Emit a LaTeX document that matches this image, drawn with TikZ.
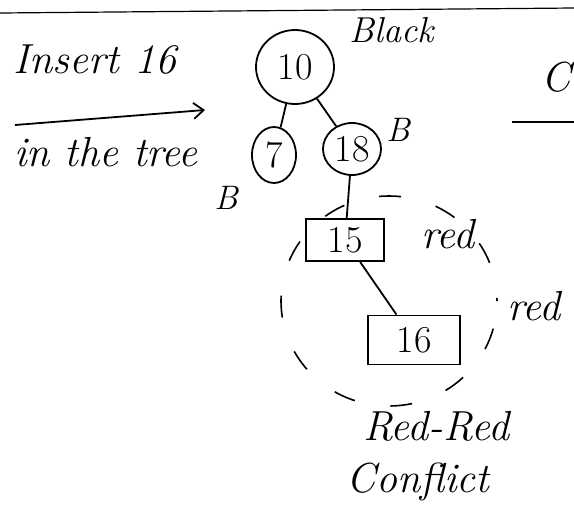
\documentclass[tikz,border=0pt]{standalone}
\usepackage{amsmath}
\usetikzlibrary{shapes.geometric,arrows.meta}

\begin{document}
\begin{tikzpicture}[x=1pt,y=-1pt,line width=1.8pt,
    hand/.style={font=\fontsize{42}{44}\selectfont\itshape,inner sep=1pt},
    small/.style={font=\fontsize{34}{36}\selectfont\itshape,inner sep=1pt},
    rbnode/.style={draw,ellipse,inner sep=0pt,font=\fontsize{38}{40}\selectfont},
    redbox/.style={draw,rectangle,inner sep=0pt,font=\fontsize{38}{40}\selectfont}]
    \useasboundingbox (0,0) rectangle (574,517);
    \draw[line width=1.2pt] (0,13) -- (574,8);
    \node[hand] (ins) at (95,60) {Insert 16};
    \node[hand] (tree) at (106,152) {in the tree};
    \coordinate (a1) at (15,125);
    \coordinate (a2) at (205,110);
    \draw[-{Straight Barb[length=10pt,width=16pt]}] (a1) -- (a2);
    \node[rbnode, minimum width=78, minimum height=74] (n10) at (295,67) {10};
    \node[rbnode, minimum width=44, minimum height=56] (n7) at (274,155) {7};
    \node[rbnode, minimum width=58, minimum height=52] (n18) at (352,149) {18};
    \node[redbox, minimum width=78, minimum height=42] (n15) at (345,240) {15};
    \node[redbox, minimum width=92, minimum height=49] (n16) at (414,340) {16};
    \draw (n10) -- (n7);
    \draw (n10) -- (n18);
    \draw (n18) -- (n15);
    \draw (n15) -- (n16);
    \node[small, font=\fontsize{36}{38}\selectfont\itshape] (blk) at (392,30) {Black};
    \node[small] (b18) at (398,130) {B};
    \node[small] (b7) at (226,198) {B};
    \node[hand] (r15) at (448,234) {red};
    \node[hand] (r16) at (534,306) {red};
    \draw[dashed, dash pattern=on 22pt off 36pt, dash phase=30pt, line width=1.6pt] (389,301) ellipse (108 and 105);
    \node[hand] (rr) at (436,426) {Red-Red};
    \node[hand] (cf) at (418,482) {Conflict};
    \node[hand] (cc) at (556,77) {C};
    \draw[line width=1.2pt] (512,122) -- (574,122);
\end{tikzpicture}
\end{document}
